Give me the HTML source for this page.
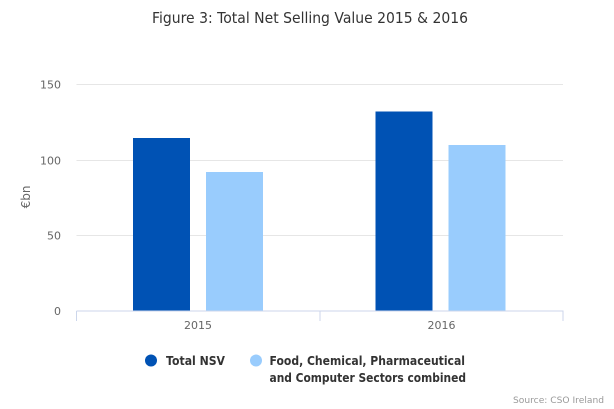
<!DOCTYPE html>
<html><head><meta charset="utf-8"><style>
html,body{margin:0;padding:0;background:#fff;}
svg{display:block;font-family:"DejaVu Sans","Liberation Sans",sans-serif;}
</style></head><body>
<svg width="614" height="409" viewBox="0 0 614 409" xmlns="http://www.w3.org/2000/svg">
<rect width="614" height="409" fill="#fff"/>
<text x="310" y="23" text-anchor="middle" font-size="15" fill="#333" textLength="316" lengthAdjust="spacingAndGlyphs">Figure 3: Total Net Selling Value 2015 &amp; 2016</text>
<g stroke="#e6e6e6" stroke-width="1">
<line x1="76.5" y1="84.5" x2="563" y2="84.5"/>
<line x1="76.5" y1="160.5" x2="563" y2="160.5"/>
<line x1="76.5" y1="235.5" x2="563" y2="235.5"/>
</g>
<g font-size="11" fill="#666" text-anchor="end">
<text x="61" y="88.5">150</text>
<text x="61" y="164.5">100</text>
<text x="61" y="239.5">50</text>
<text x="61" y="315">0</text>
</g>
<text transform="translate(30,197) rotate(-90)" text-anchor="middle" font-size="12" fill="#666">€bn</text>
<rect x="133" y="138" width="57" height="173" fill="#0052b4"/>
<rect x="206" y="172" width="57" height="139" fill="#99ccfd"/>
<rect x="375.5" y="111.5" width="57" height="199.5" fill="#0052b4"/>
<rect x="448.5" y="145" width="57" height="166" fill="#99ccfd"/>
<g stroke="#ccd6eb" stroke-width="1">
<line x1="76.5" y1="311" x2="563.5" y2="311"/>
<line x1="76.5" y1="311" x2="76.5" y2="321"/>
<line x1="320" y1="311" x2="320" y2="321"/>
<line x1="563" y1="311" x2="563" y2="321"/>
</g>
<g font-size="11" fill="#666" text-anchor="middle">
<text x="198" y="329">2015</text>
<text x="441.5" y="329">2016</text>
</g>
<circle cx="151" cy="360.5" r="6" fill="#0052b4"/>
<circle cx="256" cy="360.5" r="6" fill="#99ccfd"/>
<g font-size="12" font-weight="bold" fill="#333">
<text x="166" y="365" textLength="59" lengthAdjust="spacingAndGlyphs">Total NSV</text>
<text x="269.5" y="365" textLength="195.5" lengthAdjust="spacingAndGlyphs">Food, Chemical, Pharmaceutical</text>
<text x="269.5" y="382" textLength="196.5" lengthAdjust="spacingAndGlyphs">and Computer Sectors combined</text>
</g>
<text x="604" y="403" text-anchor="end" font-size="9" fill="#999" textLength="91" lengthAdjust="spacingAndGlyphs">Source: CSO Ireland</text>
</svg>
</body></html>
